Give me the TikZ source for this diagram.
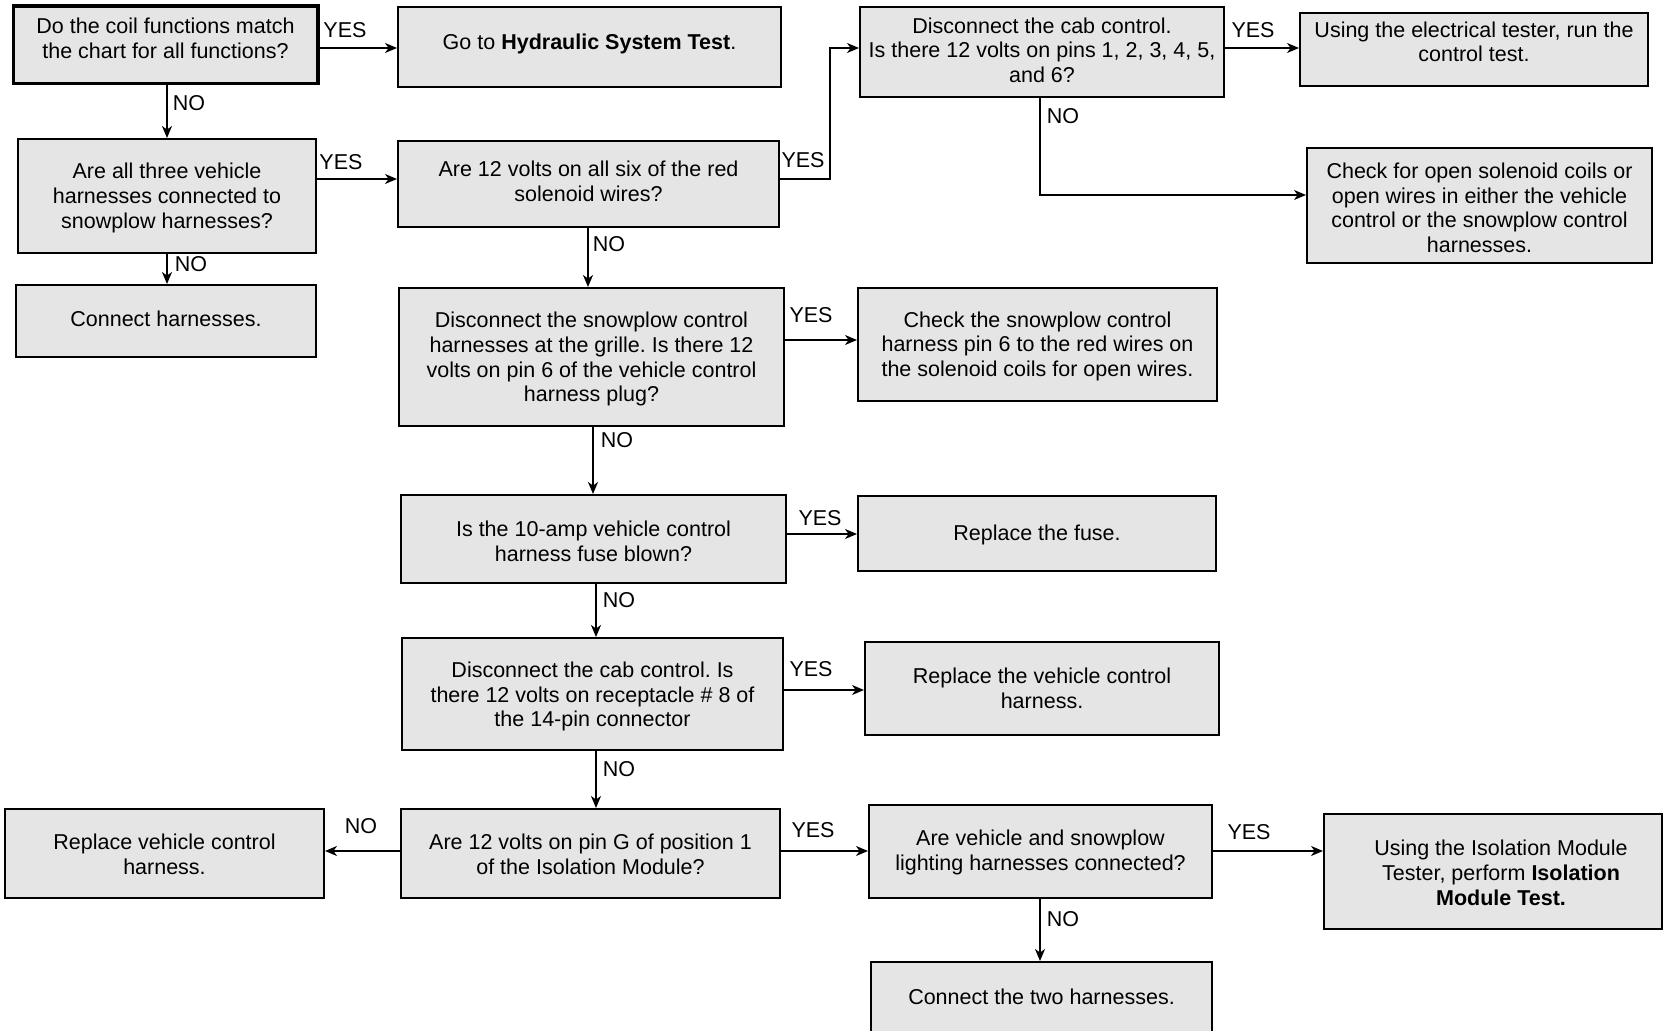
\documentclass[tikz,border=0pt]{standalone}
\usepackage{fontspec}
\setmainfont{Liberation Sans}
\frenchspacing
\usetikzlibrary{fit,arrows.meta}
\tikzset{
  flowbox/.style={draw=black, line width=1pt, fill=gray!20, inner sep=0pt},
  boxtext/.style={align=center, inner sep=0pt, font=\fontsize{10.75}{12.4}\selectfont},
  lbl/.style={inner sep=0pt, font=\fontsize{10.75}{12.4}\selectfont},
  conn/.style={line width=0.75pt, -{Stealth[length=6pt,width=5pt,inset=1.8pt]}},
}
\newcommand\mkbox[8][0]{%
  \node[flowbox, fit={(#3,#4) (#5,#6)}] (#2) {};
  \node[boxtext] (#2t) at ({(#3+#5)/2+#1},#7+1.5) {#8};}
\begin{document}
\begin{tikzpicture}[x=0.5pt,y=-0.5pt]
\fill[white] (0,0) rectangle (1664,1031);
\useasboundingbox (0,0) rectangle (1664,1031);

\mkbox{b1}{14}{7}{317}{83}{36.6}{Do the coil functions match\\the chart for all functions?}
\mkbox{b2}{398}{7}{781}{87}{42.5}{Go to \textbf{Hydraulic System Test}.}
\mkbox{b3}{860}{7}{1224}{97}{48.8}{Disconnect the cab control.\\Is there 12 volts on pins 1, 2, 3, 4, 5,\\and 6?}
\mkbox{b4}{1300}{13}{1648}{86}{40.3}{Using the electrical tester, run the\\control test.}
\mkbox{b5}{18}{139}{316}{253}{196.3}{Are all three vehicle\\harnesses connected to\\snowplow harnesses?}
\mkbox{b6}{398}{141}{779}{227}{179.9}{Are 12 volts on all six of the red\\solenoid wires?}
\mkbox{b7}{1307}{148}{1652}{263}{206.4}{Check for open solenoid coils or\\open wires in either the vehicle\\control or the snowplow control\\harnesses.}
\mkbox{b8}{16}{285}{316}{357}{317.3}{Connect harnesses.}
\mkbox{b9}{399}{288}{784}{426}{357.6}{Disconnect the snowplow control\\harnesses at the grille. Is there 12\\volts on pin 6 of the vehicle control\\harness plug?}
\mkbox{b10}{858}{288}{1217}{401}{344.9}{Check the snowplow control\\harness pin 6 to the red wires on\\the solenoid coils for open wires.}
\mkbox{b11}{401}{495}{786}{583}{539.6}{Is the 10-amp vehicle control\\harness fuse blown?}
\mkbox{b12}{858}{496}{1216}{571}{533.8}{Replace the fuse.}
\mkbox{b13}{402}{638}{783}{750}{695.1}{Disconnect the cab control. Is\\there 12 volts on receptacle \# 8 of\\the 14-pin connector}
\mkbox{b14}{865}{642}{1219}{735}{687.1}{Replace the vehicle control\\harness.}
\mkbox{b15}{5}{809}{324}{898}{852.7}{Replace vehicle control\\harness.}
\mkbox{b16}{401}{809}{780}{898}{852.7}{Are 12 volts on pin G of position 1\\of the Isolation Module?}
\mkbox{b17}{869}{805}{1212}{898}{850.6}{Are vehicle and snowplow\\lighting harnesses connected?}
\mkbox[8]{b18}{1324}{814}{1662}{929}{871.2}{Using the Isolation Module\\Tester, perform \textbf{Isolation}\\\textbf{Module Test.}}
\mkbox{b19}{871}{962}{1212}{1050}{995.4}{Connect the two harnesses.}
\draw[line width=1.5pt] (b1.south west) rectangle (b1.north east);

% connectors
\draw[conn] (b1.east |- 0,48) -- (b2.west |- 0,48);
\node[lbl] (l1) at (345,30) {YES};
\draw[conn] (b1.south -| 167,0) -- (b5.north -| 167,0);
\node[lbl] (l2) at (189,103) {NO};
\draw[conn] (b5.east |- 0,179) -- (b6.west |- 0,179);
\node[lbl] (l3) at (341,162) {YES};
\draw[conn] (b5.south -| 167,0) -- (b8.north -| 167,0);
\node[lbl] (l4) at (191,264) {NO};
\draw[conn] (b6.east |- 0,179) -- ++(50,0) |- (b3.west |- 0,48);
\node[lbl] (l5) at (803,160) {YES};
\draw[conn] (b3.east |- 0,48) -- (b4.west |- 0,48);
\node[lbl] (l6) at (1253,30) {YES};
\draw[conn] (b3.south -| 1040,0) |- (b7.west |- 0,195);
\node[lbl] (l7) at (1063,116) {NO};
\draw[conn] (b6.south -| 588,0) -- (b9.north -| 588,0);
\node[lbl] (l8) at (609,244) {NO};
\draw[conn] (b9.east |- 0,340) -- (b10.west |- 0,340);
\node[lbl] (l9) at (811,315) {YES};
\draw[conn] (b9.south -| 593,0) -- (b11.north -| 593,0);
\node[lbl] (l10) at (617,440) {NO};
\draw[conn] (b11.east |- 0,534) -- (b12.west |- 0,534);
\node[lbl] (l11) at (820,518) {YES};
\draw[conn] (b11.south -| 596,0) -- (b13.north -| 596,0);
\node[lbl] (l12) at (619,600) {NO};
\draw[conn] (b13.east |- 0,690) -- (b14.west |- 0,690);
\node[lbl] (l13) at (811,669) {YES};
\draw[conn] (b13.south -| 596,0) -- (b16.north -| 596,0);
\node[lbl] (l14) at (619,769) {NO};
\draw[conn] (b16.west |- 0,851) -- (b15.east |- 0,851);
\node[lbl] (l15) at (361,826) {NO};
\draw[conn] (b16.east |- 0,851) -- (b17.west |- 0,851);
\node[lbl] (l16) at (813,830) {YES};
\draw[conn] (b17.east |- 0,851) -- (b18.west |- 0,851);
\node[lbl] (l17) at (1249,832) {YES};
\draw[conn] (b17.south -| 1040,0) -- (b19.north -| 1040,0);
\node[lbl] (l18) at (1063,919) {NO};
\end{tikzpicture}
\end{document}
